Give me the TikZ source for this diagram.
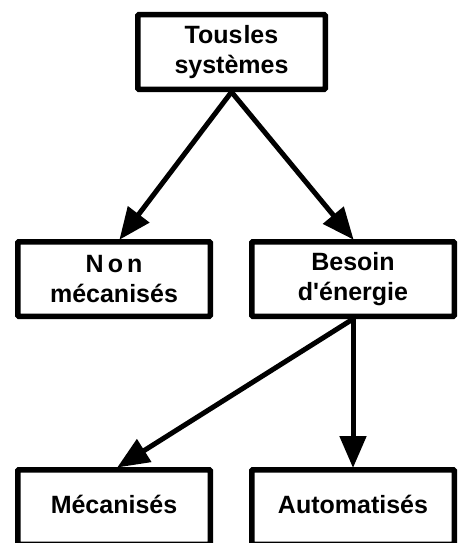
\documentclass[tikz,border=0pt]{standalone}
\usepackage{fontspec}
\setmainfont{Liberation Sans}
\usetikzlibrary{arrows.meta}
\begin{document}
\begin{tikzpicture}[x=1pt,y=-1pt,
  box/.style={draw=black, line width=5.5pt, fill=white, rectangle, inner sep=0pt,
    rounded corners=1pt, minimum height=74.5pt, align=center,
    font=\fontsize{25}{30}\selectfont\bfseries},
  conn/.style={line width=5pt, -{Triangle[length=32pt,width=26pt]}, shorten >=-1pt}]
\useasboundingbox (0,0) rectangle (464,543);
\fill[white] (0,0) rectangle (464,543);
\clip (0,0) rectangle (464,543);
\node[box, minimum width=187.5pt] (tous) at (231.5,52) {Tous\hspace{1pt}les\\systèmes};
\node[box, minimum width=192.5pt] (nonmec) at (114,279) {N\hspace{4pt}o\hspace{4pt}n\\mécanisés};
\node[box, minimum width=202.5pt] (besoin) at (353,279) {Besoin\\d\textquotesingle énergie};
\node[box, minimum width=192.5pt, text depth=0pt, text height=12pt] (meca) at (114,507) {Mécanisés};
\node[box, minimum width=202.5pt, text depth=0pt, text height=12pt] (auto) at (353,507) {Automatisés};
\draw[conn] (tous.south) -- ([xshift=6pt]nonmec.north);
\draw[conn] (tous.south) -- (besoin.north);
\draw[conn] (besoin.south) -- ([xshift=4pt]meca.north);
\draw[conn] (besoin.south) -- (auto.north);
\end{tikzpicture}
\end{document}
